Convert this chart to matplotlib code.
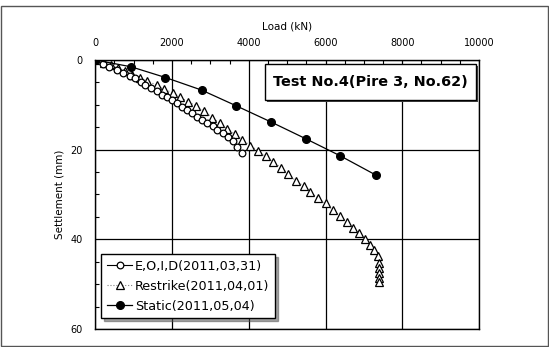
import matplotlib
matplotlib.use("Agg")
import matplotlib.pyplot as plt
from matplotlib.patches import Rectangle
from matplotlib.ticker import MultipleLocator

# data (load kN, settlement mm)
eoid_load = [0, 190, 365, 557, 730, 904, 1042, 1181, 1302, 1442, 1599, 1737, 1858,
             1997, 2135, 2257, 2396, 2518, 2656, 2779, 2917, 3056, 3177, 3333,
             3472, 3594, 3698, 3819]
eoid_settle = [0, 0.9, 1.5, 2.2, 2.8, 3.6, 4.1, 4.9, 5.6, 6.2, 6.9, 7.7, 8.3,
               8.9, 9.6, 10.4, 11.1, 11.9, 12.6, 13.3, 14.1, 14.8, 15.6, 16.3,
               17.2, 18.1, 19.4, 20.7]

restrike_load = [0, 216, 408, 580, 788, 960, 1170, 1360, 1600, 1790, 2020, 2210,
                 2415, 2620, 2830, 3055, 3245, 3435, 3640, 3835, 4040, 4250, 4440,
                 4630, 4840, 5030, 5238, 5430, 5600, 5800, 6000, 6190, 6380, 6565,
                 6710, 6870, 7040, 7160, 7265, 7370, 7400, 7400, 7400, 7400, 7390]
restrike_settle = [0, 0.7, 1.2, 1.8, 2.5, 3.3, 4.1, 4.7, 5.6, 6.5, 7.3, 8.3,
                   9.3, 10.2, 11.4, 12.9, 14.1, 15.3, 16.6, 17.8, 19.1, 20.3, 21.5,
                   22.7, 24.0, 25.5, 27.0, 28.1, 29.4, 30.8, 32.0, 33.4, 34.8, 36.2,
                   37.5, 38.7, 40.0, 41.2, 42.4, 43.8, 45.2, 46.4, 47.6, 48.6, 49.6]

static_load = [0, 930, 1830, 2770, 3670, 4575, 5495, 6390, 7320]
static_settle = [0, 1.5, 3.9, 6.7, 10.2, 13.8, 17.6, 21.4, 25.7]

fig = plt.figure(figsize=(5.49, 3.47), dpi=100)
ax = fig.add_axes([0.1735, 0.052, 0.699, 0.775])

ax.plot(eoid_load, eoid_settle, color="black", lw=0.8, marker="o", ms=4.8,
        mfc="white", mec="black", mew=0.9, label="E,O,I,D(2011,03,31)", zorder=4)
ax.plot(restrike_load, restrike_settle, color="gray", lw=0.8, ls=":", marker="^",
        ms=5.8, mfc="white", mec="black", mew=0.9, label="Restrike(2011,04,01)", zorder=3)
ax.plot(static_load, static_settle, color="black", lw=0.9, marker="o", ms=5.5,
        mfc="black", mec="black", label="Static(2011,05,04)", zorder=5)

ax.set_xlim(0, 10000)
ax.set_ylim(60, 0)
ax.xaxis.tick_top()
ax.xaxis.set_label_position("top")
ax.set_xticks([0, 2000, 4000, 6000, 8000, 10000])
ax.set_yticks([0, 20, 40, 60])
ax.xaxis.set_minor_locator(MultipleLocator(500))
ax.yaxis.set_minor_locator(MultipleLocator(5))
ax.tick_params(which="both", direction="in", length=3, width=0.8, labelsize=7)
ax.tick_params(which="major", length=0, pad=9)
ax.grid(True, which="major", color="black", lw=0.9)
for s in ax.spines.values():
    s.set_linewidth(1.0)

ax.set_xlabel("Load (kN)", fontsize=7.5, labelpad=6)
ax.set_ylabel("Settlement (mm)", fontsize=7.5, labelpad=4)

leg = ax.legend(loc="upper left", bbox_to_anchor=(0.015, 0.279), borderaxespad=0,
                fontsize=9.2, frameon=True, fancybox=False, shadow=True,
                edgecolor="black", handlelength=2.0, handletextpad=0.2,
                labelspacing=0.55, borderpad=0.45)
leg.get_frame().set_linewidth(1.0)
leg.get_frame().set_alpha(1)

# title box
ax.add_patch(Rectangle((0.448, 0.845), 0.549, 0.134, transform=ax.transAxes,
                       facecolor="#444444", edgecolor="none", zorder=6, clip_on=False))
ax.add_patch(Rectangle((0.442, 0.851), 0.549, 0.134, transform=ax.transAxes,
                       facecolor="white", edgecolor="black", lw=1.0, zorder=7, clip_on=False))
ax.text(0.716, 0.918, "Test No.4(Pire 3, No.62)", transform=ax.transAxes,
        ha="center", va="center", fontsize=10.4, fontweight="bold", zorder=8)

fig.patches.append(Rectangle((0.002, 0.003), 0.996, 0.98, transform=fig.transFigure,
                             fill=False, edgecolor="#555555", lw=1.0))

fig.savefig("out.png", dpi=100)
